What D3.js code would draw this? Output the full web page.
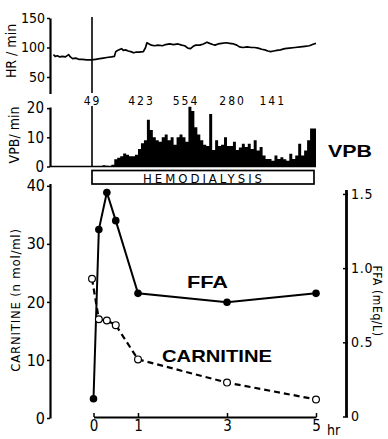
<!DOCTYPE html>
<html>
<head>
<meta charset="utf-8">
<script src="https://cdn.jsdelivr.net/npm/d3@7"></script>
<style>
  body { margin: 0; background: #fff; }
  svg { display: block; }
  text { fill: #000; }
  .narrow { font-family: 'Liberation Sans Narrow', 'DejaVu Sans Condensed', 'Liberation Sans', sans-serif; font-stretch: condensed; }
  .bold { font-family: 'Liberation Sans', Arial, sans-serif; font-weight: bold; }
</style>
</head>
<body>
<div id="chart"></div>
<script>
// heart rate trace (hours from start of dialysis, beats/min)
const hrHours = [-0.90,-0.86,-0.81,-0.76,-0.70,-0.63,-0.56,-0.52,-0.47,-0.40,-0.33,-0.25,-0.15,-0.05,0.05,0.14,0.22,0.30,0.40,0.47,
  0.50,0.54,0.60,0.63,0.67,0.72,0.78,0.84,0.90,0.95,1.02,1.12,1.17,1.20,1.25,1.30,1.37,1.45,1.55,1.62,1.71,1.80,1.90,1.98,
  2.05,2.12,2.18,2.24,2.30,2.39,2.47,2.55,2.61,2.68,2.73,2.80,2.88,2.98,3.06,3.15,3.22,3.28,3.36,3.45,3.55,3.62,3.70,3.78,
  3.85,3.92,3.98,4.05,4.12,4.20,4.30,4.40,4.53,4.65,4.75,4.85,4.95,5.00];
const hrValues = [88,85,86,84,85,84,88,84,81,82,80,80,79,79,80,81,82,83,84,85,
  93,95,97,98,95,96,94,93,91,92,92,93,100,108,106,104,103,104,103,105,106,105,106,104,
  103,99,98,102,104,104,106,109,107,105,104,106,107,108,107,106,104,101,100,101,100,100,99,97,
  96,94,93,94,95,96,98,99,100,101,102,103,106,107];

// VPB per minute, read in 4-minute bins from start of dialysis
const vpbBinMinutes = 4;
const vpbCounts = [0,0,0,0.4,0.3,0.2,0.6,2.5,3,3.5,4.5,4,3.5,3.5,4,6,8,9,16,12.5,10,9,8.5,10,11,9,10,7.5,10,11,10,8.5,
  20.5,19,13.5,11,9,7.5,7,18,5.7,9,7,7.5,10,7,7,8.5,5.7,6.5,7.8,6.7,7.8,6,9,5.5,6.7,3.8,2.6,2.6,2,3.8,2.6,3.2,2.5,2,
  4.4,2.6,3.8,7.8,3.8,5.5,9,13,13];

// hourly VPB totals printed above the histogram
const vpbTotals = ['49','423','554','280','141'];
const vpbTotalHours = [0, 1.1, 2.1, 3.15, 4.05];

// blood samples
const sampleHours = [0, 0.12, 0.3, 0.5, 1, 3, 5];
const carnitine = [24.0, 17.0, 16.8, 16.0, 10.1, 6.1, 3.2];   // n mol/ml
const ffa = [0.12, 1.26, 1.51, 1.32, 0.83, 0.77, 0.83];         // mEq/L

const xTicks = [0, 1, 3, 5];
const hrTicks = [50, 100, 150];
const vpbTicks = [0, 10, 20];
const carnTicks = [0, 10, 20, 30, 40];
const ffaTicks = [0, 0.5, 1.0, 1.5];

const W = 388, H = 439;
const svg = d3.select('#chart').append('svg').attr('width', W).attr('height', H);

const x = d3.scaleLinear().domain([0, 5]).range([93.5, 316]);
const yHR = d3.scaleLinear().domain([22, 150]).range([93.5, 18]);
const yVPB = d3.scaleLinear().domain([0, 20.4]).range([166.5, 107]);
const yCarn = d3.scaleLinear().domain([0, 40.4]).range([418, 183.5]);
const yFFA = d3.scaleLinear().domain([0, 1.53]).range([416.5, 189.5]);

const axisX = 50;

function styleAxis(g, size) {
  g.select('.domain').attr('stroke', '#000').attr('stroke-width', 2.2);
  g.selectAll('.tick line').attr('stroke', '#000').attr('stroke-width', 1.5);
  g.selectAll('.tick text').attr('class', 'narrow').style('font-size', size + 'px');
}

// ---- heart rate panel
const hrAxis = svg.append('g').attr('transform', `translate(${axisX},0)`)
  .call(d3.axisLeft(yHR).tickValues(hrTicks).tickSize(3).tickSizeOuter(0).tickPadding(2));
styleAxis(hrAxis, 14);

const hrLine = d3.line().x((d, i) => x(hrHours[i])).y(d => yHR(d)).curve(d3.curveLinear);
svg.append('path').datum(hrValues).attr('d', hrLine)
  .attr('fill', 'none').attr('stroke', '#000').attr('stroke-width', 1.7).attr('stroke-linejoin', 'round');

svg.append('text').attr('class', 'narrow')
  .attr('transform', 'translate(16,51) rotate(-90)')
  .attr('text-anchor', 'middle').style('font-size', '14px')
  .text('HR / min');

// ---- VPB panel
const vpbAxis = svg.append('g').attr('transform', `translate(${axisX},0)`)
  .call(d3.axisLeft(yVPB).tickValues(vpbTicks).tickSize(3).tickSizeOuter(0).tickPadding(3));
styleAxis(vpbAxis, 15);

const vpbBins = vpbCounts.map((v, i) => ({ t: i * vpbBinMinutes / 60, v }));
vpbBins.push({ t: vpbCounts.length * vpbBinMinutes / 60, v: 0 });
const vpbArea = d3.area().x(d => x(d.t)).y0(yVPB(0)).y1(d => yVPB(d.v)).curve(d3.curveStepAfter);
svg.append('path').datum(vpbBins).attr('d', vpbArea).attr('fill', '#000');
svg.append('line')
  .attr('x1', axisX).attr('x2', x(5)).attr('y1', yVPB(0)).attr('y2', yVPB(0))
  .attr('stroke', '#000').attr('stroke-width', 1.6);

svg.append('text').attr('class', 'narrow')
  .attr('transform', 'translate(19,135) rotate(-90)')
  .attr('text-anchor', 'middle').style('font-size', '14px')
  .text('VPB/  min');

svg.selectAll('.vpbTotal').data(vpbTotals).join('text')
  .attr('class', 'narrow vpbTotal')
  .attr('x', (d, i) => x(vpbTotalHours[i]) - 1)
  .attr('y', 105)
  .attr('text-anchor', 'middle')
  .attr('letter-spacing', 2)
  .style('font-size', '12px')
  .text(d => d);

// start-of-dialysis marker
svg.append('line').attr('x1', x(0) - 1.5).attr('x2', x(0) - 1.5).attr('y1', 17).attr('y2', 93)
  .attr('stroke', '#000').attr('stroke-width', 1.6);
svg.append('line').attr('x1', x(0) - 1.5).attr('x2', x(0) - 1.5).attr('y1', 106).attr('y2', 167)
  .attr('stroke', '#000').attr('stroke-width', 1.6);

svg.append('text').attr('class', 'bold')
  .attr('x', 328).attr('y', 157)
  .attr('textLength', 44).attr('lengthAdjust', 'spacingAndGlyphs')
  .style('font-size', '17px')
  .text('VPB');

// hemodialysis bar
svg.append('rect')
  .attr('x', x(0) - 1.5).attr('y', 170.5)
  .attr('width', x(5) - x(0) - 0.5).attr('height', 13.5)
  .attr('fill', '#fff').attr('stroke', '#000').attr('stroke-width', 1.7);
svg.append('text').attr('class', 'narrow')
  .attr('x', 143).attr('y', 182.5)
  .attr('textLength', 119).attr('lengthAdjust', 'spacing')
  .style('font-size', '13px')
  .text('HEMODIALYSIS');

// ---- main panel: carnitine (left) and FFA (right)
const carnAxis = svg.append('g').attr('transform', `translate(${axisX},0)`)
  .call(d3.axisLeft(yCarn).tickValues(carnTicks).tickSize(3).tickSizeOuter(0).tickPadding(2));
styleAxis(carnAxis, 16);

svg.append('text').attr('class', 'narrow')
  .attr('transform', 'translate(20,300) rotate(-90)')
  .attr('text-anchor', 'middle').style('font-size', '13px')
  .attr('letter-spacing', 0.8)
  .text('CARNITINE (n mol/ml)');

const ffaAxisX = 346;
const ffaAxis = svg.append('g').attr('transform', `translate(${ffaAxisX},0)`)
  .call(d3.axisRight(yFFA).tickValues(ffaTicks).tickSize(2).tickSizeOuter(0).tickPadding(3)
    .tickFormat(d => d === 0 ? '0' : d3.format('.1f')(d)));
styleAxis(ffaAxis, 14);
ffaAxis.select('.domain').attr('stroke-width', 2.8);
ffaAxis.selectAll('.tick line').attr('x1', -3);
ffaAxis.selectAll('.tick text').attr('letter-spacing', 0.8);

svg.append('text').attr('class', 'narrow')
  .attr('transform', 'translate(373,301) rotate(90)')
  .attr('text-anchor', 'middle').style('font-size', '12px')
  .attr('letter-spacing', 0.6)
  .text('FFA (mEq/L)');

// time axis
const xAxis = svg.append('g').attr('transform', 'translate(0,417)')
  .call(d3.axisBottom(x).tickValues(xTicks).tickSize(-4).tickSizeOuter(0).tickPadding(3).tickFormat(d3.format('d')));
styleAxis(xAxis, 15);
svg.append('text').attr('class', 'narrow')
  .attr('x', 327).attr('y', 435)
  .style('font-size', '14px')
  .text('hr');

// FFA series
const ffaLine = d3.line().x((d, i) => x(sampleHours[i])).y(d => yFFA(d));
svg.append('path').datum(ffa).attr('d', ffaLine)
  .attr('fill', 'none').attr('stroke', '#000').attr('stroke-width', 2);
svg.selectAll('.ffaDot').data(ffa).join('circle')
  .attr('class', 'ffaDot')
  .attr('cx', (d, i) => x(sampleHours[i]))
  .attr('cy', d => yFFA(d))
  .attr('r', 3.8).attr('fill', '#000');

// carnitine series
const carnLine = d3.line().x((d, i) => x(sampleHours[i]) - (i === 0 ? 1.5 : 0)).y(d => yCarn(d));
svg.append('path').datum(carnitine).attr('d', carnLine)
  .attr('fill', 'none').attr('stroke', '#000').attr('stroke-width', 2.2)
  .attr('stroke-dasharray', '6,4');
svg.selectAll('.carnDot').data(carnitine).join('circle')
  .attr('class', 'carnDot')
  .attr('cx', (d, i) => x(sampleHours[i]) - (i === 0 ? 1.5 : 0))
  .attr('cy', d => yCarn(d))
  .attr('r', 3.4).attr('fill', '#fff').attr('stroke', '#000').attr('stroke-width', 1.2);

svg.append('text').attr('class', 'bold')
  .attr('x', 187).attr('y', 288)
  .attr('textLength', 41).attr('lengthAdjust', 'spacingAndGlyphs')
  .style('font-size', '17px')
  .text('FFA');
svg.append('text').attr('class', 'bold')
  .attr('x', 162).attr('y', 362)
  .attr('textLength', 110).attr('lengthAdjust', 'spacingAndGlyphs')
  .style('font-size', '17px')
  .text('CARNITINE');
</script>
</body>
</html>
